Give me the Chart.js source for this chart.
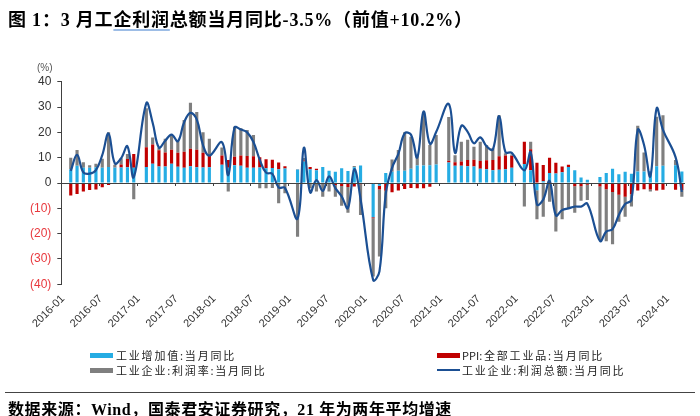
<!DOCTYPE html>
<html><head><meta charset="utf-8">
<script src="https://cdn.jsdelivr.net/npm/chart.js@4.4.1/dist/chart.umd.min.js"></script>
<style>
html,body{margin:0;padding:0;background:#fff;width:700px;height:416px;overflow:hidden;}
#c{position:absolute;left:0;top:0;}
.t{position:absolute;white-space:nowrap;color:#000;}
#title{left:8px;top:5px;font:bold 18px "Liberation Serif","Noto Sans CJK SC",serif;letter-spacing:0.8px;}
#title .u{text-decoration:underline;text-decoration-color:#9dbde6;text-decoration-thickness:1.5px;text-underline-offset:3px;}
#pct{left:37px;top:62px;font:10px "Liberation Sans",sans-serif;color:#555;}
.lg{position:absolute;font:11px "Noto Sans CJK SC",sans-serif;color:#222;letter-spacing:1.8px;white-space:nowrap;line-height:14px;}
.lg .n{letter-spacing:0;}
.sw{position:absolute;}
#rule{position:absolute;left:5px;top:392px;width:690px;height:0;border-top:1.5px solid #444;}
#foot{left:8px;top:396px;font:bold 16px "Liberation Serif","Noto Sans CJK SC",serif;letter-spacing:0.6px;}
</style></head><body>
<canvas id="c" width="700" height="416"></canvas>
<div class="t" id="title">图 1：3 月工<span class="u">企利润</span>总额当月同比-3.5%（前值+10.2%）</div>
<div class="t" id="pct">(%)</div>
<div class="sw" style="left:90px;top:353px;width:23px;height:5px;background:#25ACE3"></div>
<div class="lg" style="left:116px;top:348px">工业增加值:当月同比</div>
<div class="sw" style="left:437px;top:353px;width:23px;height:5px;background:#C00000"></div>
<div class="lg" style="left:462px;top:348px"><span class="n">PPI</span>:全部工业品:当月同比</div>
<div class="sw" style="left:90px;top:368px;width:23px;height:5px;background:#7F7F7F"></div>
<div class="lg" style="left:116px;top:363px">工业企业:利润率:当月同比</div>
<div class="sw" style="left:437px;top:369px;width:23px;height:2px;background:#1B4F93"></div>
<div class="lg" style="left:462px;top:363px">工业企业:利润总额:当月同比</div>
<div id="rule"></div>
<div class="t" id="foot">数据来源：Wind，国泰君安证券研究，21 年为两年平均增速</div>
<script>
// categories: monthly 2016-01 .. 2024-03
const months = [];
for (let y = 2016; y <= 2024; y++) {
  for (let m = 1; m <= 12; m++) {
    if (y === 2024 && m > 3) break;
    months.push(y + '-' + String(m).padStart(2, '0'));
  }
}
// 工业增加值:当月同比
const iva = [
  null, 5.4, 6.8, 6.0, 6.0, 6.2, 6.0, 6.3, 6.1, 6.1, 6.2, 6.0,
  null, 6.3, 7.6, 6.5, 6.5, 7.6, 6.4, 6.0, 6.6, 6.2, 6.1, 6.2,
  null, 7.2, 6.0, 7.0, 6.8, 6.0, 6.0, 6.1, 5.8, 5.9, 5.4, 5.7,
  null, 5.3, 8.5, 5.4, 5.0, 6.3, 4.8, 4.4, 5.8, 4.7, 6.2, 6.9,
  null, -13.5, -1.1, 3.9, 4.4, 4.8, 4.8, 5.6, 6.9, 6.9, 7.0, 7.3,
  null, 8.1, 6.8, 6.8, 6.6, 6.5, 5.6, 5.4, 5.0, 5.2, 5.4, 6.0,
  null, 7.5, 5.0, -2.9, 0.7, 3.9, 3.8, 4.2, 6.3, 5.0, 2.2, 1.3,
  null, 2.4, 3.9, 5.6, 3.5, 4.4, 3.7, 4.5, 4.5, 4.6, 6.6, 6.8,
  null, 7.0, 4.5
];
// PPI:全部工业品:当月同比
const ppi = [
  null, -4.9, -4.3, -3.4, -2.8, -2.6, -1.7, -0.8, 0.1, 1.2, 3.3, 5.5,
  null, 7.8, 7.6, 6.4, 5.5, 5.5, 5.5, 6.3, 6.9, 6.9, 5.8, 4.9,
  null, 3.7, 3.1, 3.4, 4.1, 4.7, 4.6, 4.1, 3.6, 3.3, 2.7, 0.9,
  null, 0.1, 0.4, 0.9, 0.6, 0.0, -0.3, -0.8, -1.2, -1.6, -1.4, -0.5,
  null, -0.4, -1.5, -3.1, -3.7, -3.0, -2.4, -2.0, -2.1, -2.1, -1.5, -0.4,
  null, 0.7, 1.4, 1.7, 2.5, 2.7, 3.1, 3.6, 4.1, 5.4, 5.5, 4.8,
  null, 8.8, 8.3, 8.0, 6.4, 6.1, 4.2, 2.3, 0.9, -1.3, -1.3, -0.7,
  null, -1.4, -2.5, -3.6, -4.6, -5.4, -4.4, -3.0, -2.5, -2.6, -3.0, -2.7,
  null, -2.7, -2.8
];
// 工业企业:利润率:当月同比
const margin = [
  null, 4.6, 6.2, 2.2, 1.0, 1.4, 3.6, 13.7, 1.0, 2.5, 2.0, -6.4,
  null, 15.4, 2.8, 1.1, 5.5, 5.9, 5.1, 12.6, 18.2, 14.9, 8.1, 6.4,
  null, 3.1, -3.4, 11.8, 10.7, 10.2, 8.4, -2.1, -2.1, -2.0, -8.0, -4.0,
  null, -21.2, 1.0, -2.1, -3.4, -5.4, -3.1, -4.6, -7.8, -10.1, 0.5, -12.1,
  null, -23.0, -26.4, -6.9, 4.9, 8.2, 15.2, 12.7, 4.1, 20.6, 8.0, 11.7,
  null, 17.3, 2.8, 7.8, 8.0, 5.1, 7.6, 6.0, 4.6, 16.2, 0.8, 0.5,
  null, -9.3, 3.0, -11.4, -13.3, -7.4, -19.2, -14.3, -10.0, -10.4, -5.7, -6.0,
  null, -21.1, -20.5, -20.6, -10.7, -7.9, -4.9, 18.1, 7.5, -0.8, 19.6, 20.0,
  null, 2.1, -2.6
];
// 工业企业:利润总额:当月同比
const profit = [
  null, 4.8, 11.1, 4.2, 3.7, 5.1, 11.0, 19.5, 7.7, 9.8, 14.5, 2.3,
  null, 31.5, 23.8, 14.0, 16.7, 19.1, 16.5, 24.0, 27.7, 25.1, 14.9, 10.8,
  null, 16.1, 3.1, 21.9, 21.1, 20.0, 16.2, 9.2, 4.1, 3.6, -1.8, -1.9,
  null, -14.0, 13.9, -3.7, 1.1, -3.1, 2.6, -2.0, -5.3, -9.9, 5.4, -6.3,
  null, -38.3, -34.9, -4.3, 6.0, 11.5, 19.6, 19.1, 10.1, 28.2, 15.5, 20.1,
  null, 31.2, 11.9, 22.6, 20.2, 15.7, 18.0, 14.5, 13.2, 26.4, 12.2, 11.9,
  null, 5.0, 12.2, -8.5, -6.5, 0.8, -12.8, -10.7, -10.0, -9.3, -9.3, -8.2,
  null, -22.9, -19.2, -18.2, -12.6, -8.3, -6.7, 21.0, 15.0, 2.7, 29.5, 21.0,
  null, 10.2, -3.5
];
const yTicks = [40, 30, 20, 10, 0, -10, -20, -30, -40];
const labelEvery = 6;

const zeroTicks = {
  id: 'zeroTicks',
  afterDatasetsDraw(chart) {
    const xs = chart.scales.x, ys = chart.scales.y, ctx = chart.ctx;
    const half = (xs.getPixelForValue(1) - xs.getPixelForValue(0)) / 2;
    const y0 = ys.getPixelForValue(0);
    ctx.save();
    ctx.strokeStyle = '#404040';
    ctx.lineWidth = 1;
    ctx.beginPath();
    ctx.moveTo(xs.left, Math.round(y0) + 0.5);
    ctx.lineTo(xs.right, Math.round(y0) + 0.5);
    for (let i = 0; i < months.length; i += labelEvery) {
      const x = Math.round(xs.getPixelForValue(i) - half) + 0.5;
      ctx.moveTo(x, y0);
      ctx.lineTo(x, y0 + 3);
    }
    ctx.stroke();
    ctx.restore();
  }
};

new Chart(document.getElementById('c'), {
  data: {
    labels: months,
    datasets: [
      { type: 'line', label: '工业企业:利润总额:当月同比', data: profit, borderColor: '#1B4F93', borderWidth: 2.2,
        pointRadius: 0, tension: 0.4, spanGaps: true, fill: false, order: 0, stack: 'ln' },
      { type: 'bar', label: '工业增加值:当月同比', data: iva, backgroundColor: '#25ACE3', order: 1, stack: 's' },
      { type: 'bar', label: 'PPI:全部工业品:当月同比', data: ppi, backgroundColor: '#C00000', order: 1, stack: 's' },
      { type: 'bar', label: '工业企业:利润率:当月同比', data: margin, backgroundColor: '#7F7F7F', order: 1, stack: 's' }
    ]
  },
  options: {
    responsive: false,
    animation: false,
    devicePixelRatio: 1,
    layout: { padding: { left: 11.3, right: 15, top: 81.7, bottom: 81.7 } },
    datasets: { bar: { barPercentage: 0.5, categoryPercentage: 1.0 } },
    plugins: { legend: { display: false }, tooltip: { enabled: false } },
    scales: {
      x: {
        stacked: true,
        offset: true,
        grid: { display: false, drawTicks: false },
        border: { display: false },
        ticks: {
          autoSkip: false, minRotation: 45, maxRotation: 45, padding: 8,
          labelOffset: -1.5,
          color: '#333', font: { family: 'Liberation Sans', size: 11 },
          callback: (v, i) => (i % labelEvery === 0 ? months[i] : '')
        },
        afterFit(a) { a.height = 50; a.paddingLeft = 0; a.paddingRight = 0; }
      },
      y: {
        stacked: true,
        min: -40, max: 40,
        afterBuildTicks(a) { a.ticks = yTicks.map(v => ({ value: v })); },
        grid: { drawOnChartArea: false, drawTicks: true, tickLength: 4, tickColor: '#404040' },
        border: { display: true, color: '#404040', width: 1 },
        ticks: {
          padding: 6,
          color: c => (c.tick.value < 0 ? '#E8383D' : '#333'),
          font: { family: 'Liberation Sans', size: 12 },
          callback: v => (v < 0 ? '(' + Math.abs(v) + ')' : String(v))
        },
        afterFit(a) { a.width = 50; a.paddingTop = 0; a.paddingBottom = 0; }
      }
    }
  },
  plugins: [zeroTicks]
});
</script>
</body></html>
